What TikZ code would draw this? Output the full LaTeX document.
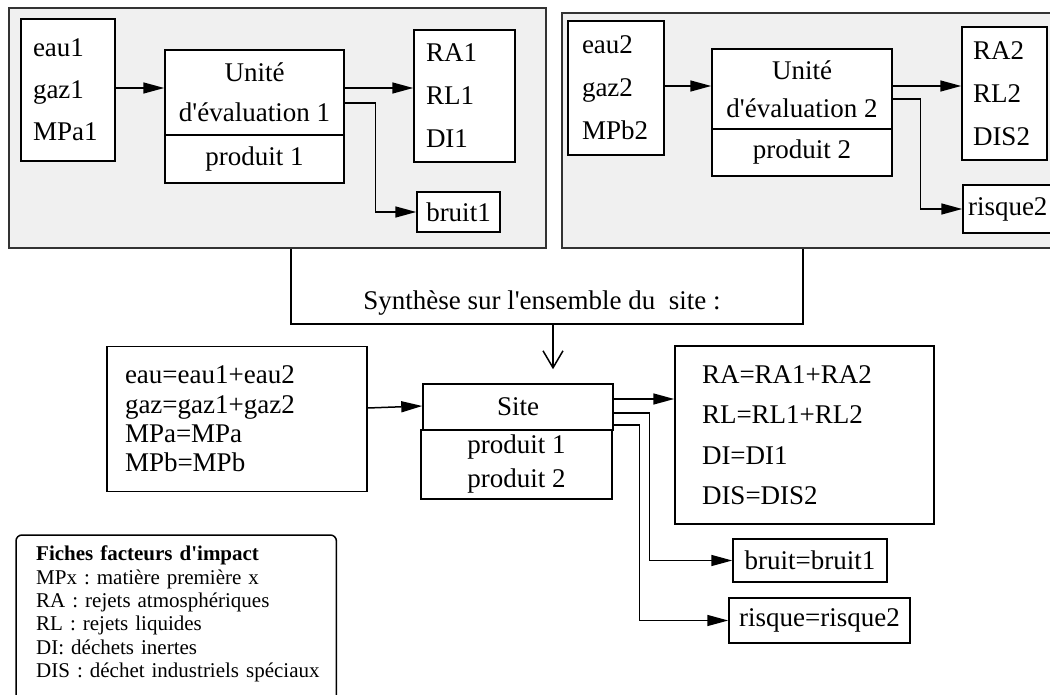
\documentclass[tikz,border=0pt]{standalone}
\usepackage{fontspec}
\setmainfont{Liberation Serif}
\usetikzlibrary{arrows.meta,calc}
\newcommand\sq{\textquotesingle}
\begin{document}
\frenchspacing
\begin{tikzpicture}[x=1pt,y=-1pt,
  box/.style={draw, line width=1.5pt, fill=white, inner sep=0pt, font=\fontsize{27}{42}\selectfont},
  lbox/.style={box, align=left},
  panel/.style={draw=black!80, line width=1.5pt, fill=black!6, inner sep=0pt},
  arr/.style={line width=1.5pt, -{Triangle[length=21pt,width=11pt]}},
  ln/.style={line width=1.5pt},
  vee/.style={line width=1.5pt, -{Straight Barb[length=17pt,width=20pt,line width=1.5pt]}}
]
\useasboundingbox (0,0) rectangle (1050,695);

% panels
\node[panel, minimum width=537pt, minimum height=240pt] (pan1) at (277.5,128) {};
\node[panel, minimum width=500pt, minimum height=235pt] (pan2) at (812,130.5) {};

% panel 1
\node[lbox, minimum height=142pt, text width=70pt, inner xsep=12pt] (in1) at (68,90) {eau1\\gaz1\\MPa1};
\node[box, minimum width=179pt, minimum height=85pt, align=center, font=\fontsize{27}{40}\selectfont] (u1) at (254.5,92.5) {Unité\\d\sq évaluation 1};
\node[box, minimum width=179pt, minimum height=48pt] (p1) at (254.5,159) {produit 1};
\node[lbox, minimum height=132pt, text width=77pt, inner xsep=12pt, font=\fontsize{27}{43}\selectfont] (o1) at (464.5,96) {RA1\\RL1\\DI1};
\node[box, minimum width=83pt, minimum height=40pt] (b1) at (458.5,212) {bruit1};

\draw[arr] (in1.east |- 0,88) -- (u1.west |- 0,88);
\draw[arr] (u1.east |- 0,88) -- (o1.west |- 0,88);
\draw[arr] (u1.east |- 0,103) -| ([xshift=-41pt]b1.west) -- (b1.west);

% panel 2
\node[lbox, minimum height=134pt, text width=68pt, inner xsep=14pt, font=\fontsize{27}{43}\selectfont] (in2) at (616,88) {eau2\\gaz2\\MPb2};
\node[box, minimum width=180pt, minimum height=80pt, align=center, font=\fontsize{27}{38}\selectfont] (u2) at (802,89) {Unité\\d\sq évaluation 2};
\node[box, minimum width=180pt, minimum height=47pt] (p2) at (802,152.5) {produit 2};
\node[lbox, minimum height=133pt, text width=63pt, inner xsep=11pt, font=\fontsize{27}{43}\selectfont] (o2) at (1004.5,93.5) {RA2\\RL2\\DIS2};
\node[lbox, minimum height=48pt, text width=92pt, inner xsep=5pt] (r2) at (1014,209) {risque2};

\draw[arr] (in2.east |- 0,86) -- (u2.west |- 0,86);
\draw[arr] (u2.east |- 0,86) -- (o2.west |- 0,86);
\draw[arr] (u2.east |- 0,99) -| ([xshift=-42pt]r2.west) -- (r2.west);

% synthesis bracket
\draw[ln] (pan1.south -| 291,0) -- (291,324) -- (803,324) -- (pan2.south -| 803,0);
\node[font=\fontsize{27}{32}\selectfont, inner sep=0pt] (syn) at (542,303) {Synthèse sur l\sq ensemble du\ \ site :};
\coordinate (brk) at (553,324);

% site level
\node[box, minimum width=190pt, minimum height=46pt] (site) at (518,407) {Site};
\node[box, minimum width=191pt, minimum height=69pt, align=center, font=\fontsize{27}{34}\selectfont] (ps) at (516.5,464.5) {produit 1\\produit 2};
\node[lbox, minimum height=145pt, text width=224pt, inner xsep=18pt, font=\fontsize{27}{29.3}\selectfont] (lb) at (237,419) {eau=eau1+eau2\\gaz=gaz1+gaz2\\MPa=MPa\\MPb=MPb};
\node[lbox, minimum height=178pt, text width=205pt, inner xsep=27pt, font=\fontsize{27}{40.5}\selectfont] (ra) at (804.5,435) {RA=RA1+RA2\\RL=RL1+RL2\\DI=DI1\\DIS=DIS2};
\node[box, minimum width=154pt, minimum height=43pt] (bb) at (810,560.5) {bruit=bruit1};
\node[box, minimum width=181pt, minimum height=45pt] (rb) at (819.5,620.5) {risque=risque2};

\draw[vee, shorten >=14pt] (brk) -- (brk |- site.north);
\draw[arr] (lb.east |- 0,408) -- (site.west |- 0,406);
\draw[arr] (site.east |- 0,399) -- (ra.west |- 0,399);
\draw[arr] (site.east |- 0,413) -| ([xshift=-83pt]bb.west) -- (bb.west);
\draw[arr] (site.east |- 0,425) -| ([xshift=-89pt]rb.west) -- (rb.west);

% legend
\node[anchor=north west, text width=300pt, inner xsep=0pt, inner ysep=11pt, align=left, font=\fontsize{21}{23.3}\selectfont] (leg) at (36,535)
  {\textbf{Fiches facteurs d\sq impact}\\MPx : matière première x\\RA : rejets atmosphériques\\RL : rejets liquides\\DI: déchets inertes\\DIS : déchet industriels spéciaux};
\draw[ln, rounded corners=6pt] ([xshift=-20pt]leg.north west) rectangle ([yshift=-30pt]leg.south east);
\end{tikzpicture}
\end{document}
